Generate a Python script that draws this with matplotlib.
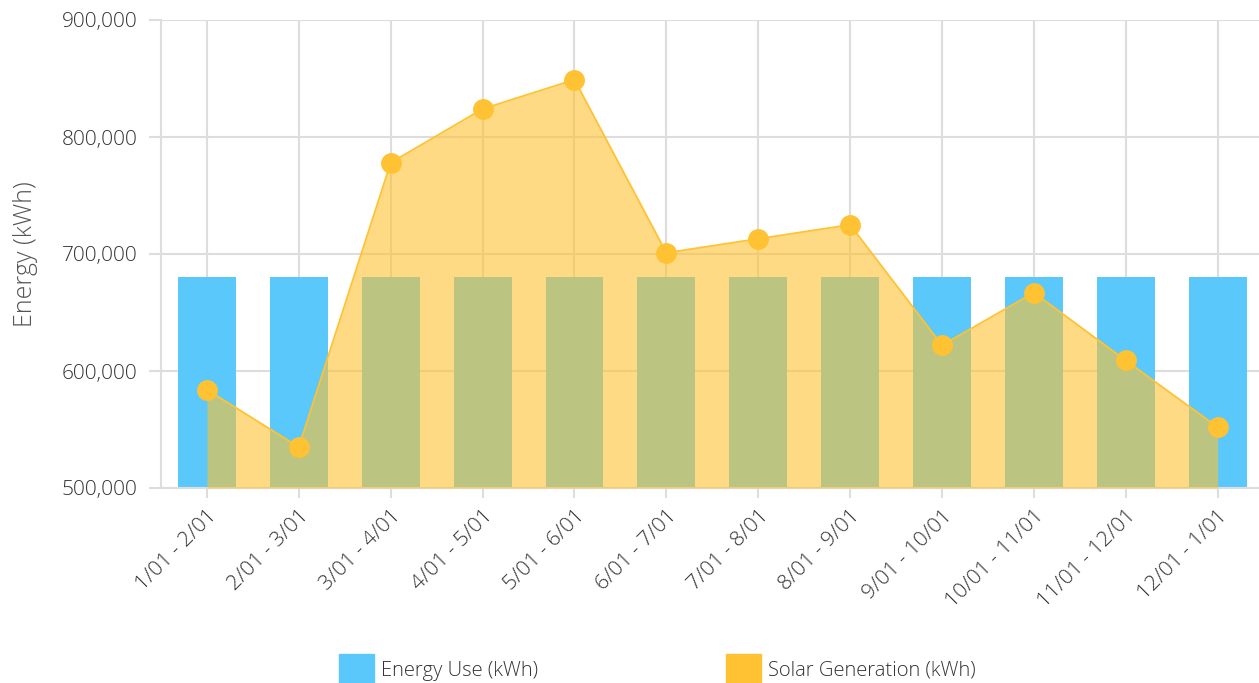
import matplotlib.pyplot as plt
from matplotlib.patches import Patch
from matplotlib.ticker import FuncFormatter
import numpy as np

# donnees
periods = ["1/01 - 2/01", "2/01 - 3/01", "3/01 - 4/01", "4/01 - 5/01", "5/01 - 6/01",
           "6/01 - 7/01", "7/01 - 8/01", "8/01 - 9/01", "9/01 - 10/01", "10/01 - 11/01",
           "11/01 - 12/01", "12/01 - 1/01"]
energy_use = [680000] * 12
solar_gen = [584000, 535000, 778000, 824000, 849000, 701000,
             713000, 725000, 622000, 667000, 609000, 552000]

blue = "#5AC8FA"
yellow = "#FFC233"
grid_col = "#DDDDDD"
txt_col = "#333333"

plt.rcParams['font.family'] = ['Open Sans', 'DejaVu Sans']
plt.rcParams['font.weight'] = 'light'

fig = plt.figure(figsize=(12.59, 6.83), dpi=100)
ax = fig.add_axes([161/1259, 1-488/683, 1-161/1259, (488-20)/683])

x = np.arange(len(periods))
ax.bar(x, np.array(energy_use) - 500000, bottom=500000, width=0.63, color=blue, zorder=2)
ax.fill_between(x, solar_gen, 500000, color=yellow, alpha=0.6, linewidth=0, zorder=3)
ax.plot(x, solar_gen, color=yellow, lw=1.3, marker='o', markersize=14, zorder=4)

ax.set_ylim(500000, 900000)
ax.set_xlim(-0.5, 11.45)
ax.set_yticks(np.arange(500000, 900001, 100000))
ax.yaxis.set_major_formatter(FuncFormatter(lambda v, p: f"{int(v):,}"))
ax.set_xticks(x)
ax.set_xticklabels(periods, rotation=45, ha='right', rotation_mode='anchor')

ax.grid(True, color=grid_col, lw=1.5, zorder=0)
ax.set_axisbelow(True)
for s in ['top', 'right']:
    ax.spines[s].set_visible(False)
for s in ['left', 'bottom']:
    ax.spines[s].set_color(grid_col)
    ax.spines[s].set_linewidth(1.5)
ax.tick_params(axis='y', length=9, width=1.5, color=grid_col, labelsize=15, labelcolor=txt_col, pad=8)
ax.tick_params(axis='x', length=7, width=1.5, color=grid_col, labelsize=15.3, labelcolor=txt_col, pad=6)
ax.set_ylabel("Energy (kWh)", fontsize=18, fontweight='light', color="#555555", labelpad=17)

handles = [Patch(color=blue, label="Energy Use (kWh)"),
           Patch(color=yellow, label="Solar Generation (kWh)")]
fig.legend(handles=handles, loc='center', bbox_to_anchor=(0.522, 0.02), ncol=2,
           frameon=False, fontsize=14.5, handlelength=1.75, handleheight=1.9,
           columnspacing=9.3, handletextpad=0.35, labelcolor=txt_col)

fig.savefig("out.png", dpi=100)
